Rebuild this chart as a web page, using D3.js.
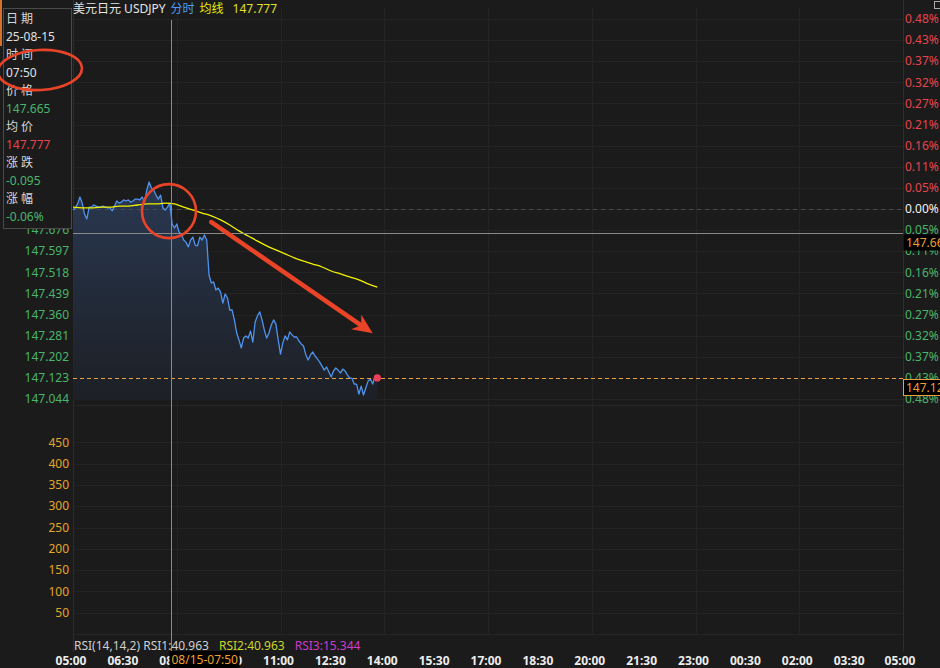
<!DOCTYPE html>
<html><head><meta charset="utf-8">
<script src="https://cdn.jsdelivr.net/npm/d3@7/dist/d3.min.js"></script>
<style>
html,body{margin:0;padding:0;background:#1b1b1b;}
svg{display:block;font-family:"Noto Sans","Noto Sans CJK SC",sans-serif;}
</style></head>
<body><svg id="c" width="940" height="668"></svg>
<script>
// ---------------- data ----------------
const symbolName = "美元日元 USDJPY";
const startTime = "05:00";      // first minute bar
const stepMinutes = 4;          // sampling of the price series
const prices = [
147.751,147.759,147.774,147.800,147.777,147.736,147.718,147.762,147.762,147.770,
147.766,147.762,147.762,147.766,147.762,147.759,147.759,147.748,147.766,147.785,
147.777,147.781,147.789,147.785,147.789,147.781,147.785,147.792,147.792,147.789,
147.800,147.781,147.826,147.856,147.834,147.826,147.807,147.792,147.807,147.759,
147.751,147.762,147.777,147.699,147.684,147.699,147.669,147.661,147.639,147.631,
147.613,147.639,147.650,147.620,147.617,147.650,147.639,147.658,147.639,147.508,
147.478,147.482,147.452,147.459,147.444,147.403,147.437,147.422,147.377,147.377,
147.340,147.291,147.265,147.235,147.272,147.280,147.272,147.298,147.257,147.332,
147.355,147.370,147.340,147.302,147.272,147.291,147.321,147.340,147.325,147.265,
147.212,147.254,147.280,147.265,147.295,147.284,147.276,147.276,147.261,147.250,
147.242,147.209,147.190,147.209,147.220,147.205,147.194,147.182,147.167,147.152,
147.164,147.145,147.126,147.149,147.160,147.152,147.141,147.156,147.149,147.134,
147.122,147.122,147.100,147.100,147.062,147.092,147.059,147.085,147.111,147.119,
147.100,147.130,147.123];
const avgStepMinutes = 16;      // sampling of the average line
const avgPrices = [
147.762,147.759,147.759,147.762,147.762,147.766,147.766,147.770,147.774,147.774,
147.777,147.774,147.762,147.751,147.740,147.729,147.714,147.695,147.673,147.654,
147.635,147.617,147.602,147.587,147.572,147.560,147.549,147.538,147.523,147.512,
147.501,147.490,147.475,147.463];
const prevClose = 147.755;
const lastPrice = 147.123;
const avgNow = "147.777";
const priceTicks = [148.466,148.387,148.308,148.229,148.150,148.071,147.992,147.913,147.834,147.755,
                    147.676,147.597,147.518,147.439,147.360,147.281,147.202,147.123,147.044];
const pctLabels = ["0.48%","0.43%","0.37%","0.32%","0.27%","0.21%","0.16%","0.11%","0.05%","0.00%",
                   "0.05%","0.11%","0.16%","0.21%","0.27%","0.32%","0.37%","0.43%","0.48%"];
const rsiTicks = [450,400,350,300,250,200,150,100,50];
const timeLabels = ["05:00","06:30","08:00","09:30","11:00","12:30","14:00","15:30","17:00",
                    "18:30","20:00","21:30","23:00","00:30","02:00","03:30","05:00"];
const gridHours = ["05:00","08:00","11:00","14:00","17:00","20:00","23:00","02:00","05:00"];
const cursorTime = "07:50";
const cursorDate = "08/15";
const cursorPrice = 147.665;
const infoLabels = ["日 期","25-08-15","时 间","07:50","价 格","147.665","均 价","147.777","涨 跌","-0.095","涨 幅","-0.06%"];
const rsiItems = [{t:"RSI(14,14,2) RSI1:40.963",c:"#cfcfcf"},{t:"RSI2:40.963",c:"#c9d62a"},{t:"RSI3:15.344",c:"#cc3ccc"}];

// ---------------- layout ----------------
const W = 940, H = 668;
const L = 73, R = 903;
const mainTop = 19, mainBot = 399;
const rsiTop = 421, rsiBot = 634;
const svg = d3.select("#c");
svg.append("rect").attr("width",W).attr("height",H).attr("fill","#1b1b1b");

const toMin = s => { const [h,m] = s.split(":").map(Number); return h*60+m; };
const startMin = toMin(startTime);
const offset = (s, i) => { let o = (toMin(s) - startMin + 1440) % 1440; if (o===0 && i>0) o = 1440; return o; };
const base = new Date(2025,7,15,5,0);
const tAt = mins => new Date(base.getTime() + mins*60000);

const x = d3.scaleTime().domain([tAt(0), tAt(1440)]).range([L, R]);
const y = d3.scaleLinear().domain([147.044, 148.466]).range([mainBot, mainTop]);
const yR = d3.scaleLinear().domain([0, 500]).range([rsiBot, rsiTop]);

const series = prices.map((p,i)=>({t:tAt(i*stepMinutes), p}));
const avgSeries = avgPrices.map((p,i)=>({t:tAt(i*avgStepMinutes), p}));

// grid
const g = svg.append("g");
g.selectAll("line.hg").data(priceTicks).join("line")
  .attr("x1",L).attr("x2",R).attr("y1",d=>Math.round(y(d))+0.5).attr("y2",d=>Math.round(y(d))+0.5)
  .attr("stroke","#232323");
g.selectAll("line.rg").data(rsiTicks).join("line")
  .attr("x1",L).attr("x2",R).attr("y1",d=>Math.round(yR(d))+0.5).attr("y2",d=>Math.round(yR(d))+0.5)
  .attr("stroke","#232323");
g.selectAll("line.vg").data(gridHours.map(offset)).join("line")
  .attr("x1",d=>Math.round(x(tAt(d)))+0.5).attr("x2",d=>Math.round(x(tAt(d)))+0.5)
  .attr("y1",mainTop-12).attr("y2",rsiBot)
  .attr("stroke","#242424");
// panel separators
[[L,L,0,652],[R,R,0,652]].forEach(a=>svg.append("line").attr("x1",a[0]+0.5).attr("x2",a[1]+0.5).attr("y1",a[2]).attr("y2",a[3]).attr("stroke","#2c2c2c"));
svg.append("line").attr("x1",L).attr("x2",R).attr("y1",mainBot+6.5).attr("y2",mainBot+6.5).attr("stroke","#262626");
svg.append("line").attr("x1",L).attr("x2",R).attr("y1",rsiBot+0.5).attr("y2",rsiBot+0.5).attr("stroke","#262626");

// area gradient
const defs = svg.append("defs");
const grad = defs.append("linearGradient").attr("id","ag").attr("x1",0).attr("y1",0).attr("x2",0).attr("y2",1);
grad.append("stop").attr("offset","0%").attr("stop-color","#2a3a55").attr("stop-opacity",0.95);
grad.append("stop").attr("offset","100%").attr("stop-color","#1d2026").attr("stop-opacity",0.9);
const area = d3.area().x(d=>x(d.t)).y0(mainBot+1).y1(d=>y(d.p));
svg.append("path").datum(series).attr("d",area).attr("fill","url(#ag)");

// prev close dashed
svg.append("line").attr("x1",L).attr("x2",R).attr("y1",Math.round(y(prevClose))+0.5).attr("y2",Math.round(y(prevClose))+0.5)
  .attr("stroke","#4a4a4a").attr("stroke-dasharray","4,4");

// price line
svg.append("path").datum(series).attr("d",d3.line().x(d=>x(d.t)).y(d=>y(d.p)))
  .attr("fill","none").attr("stroke","#4f93ee").attr("stroke-width",1.3).attr("stroke-linejoin","round");
// average line
svg.append("path").datum(avgSeries).attr("d",d3.line().curve(d3.curveMonotoneX).x(d=>x(d.t)).y(d=>y(d.p)))
  .attr("fill","none").attr("stroke","#f2f200").attr("stroke-width",1.3);

// last price dashed
const yLast = Math.round(y(lastPrice))+0.5;
svg.append("line").attr("x1",L).attr("x2",R).attr("y1",yLast).attr("y2",yLast)
  .attr("stroke","#e8a040").attr("stroke-dasharray","4,3");
const lastPt = series[series.length-1];
svg.append("circle").attr("cx",x(lastPt.t)).attr("cy",y(lastPt.p)).attr("r",3.6).attr("fill","#ee4058");

// crosshair
const cx = Math.round(x(tAt(offset(cursorTime,1))))+0.5;
const cy = Math.round(y(cursorPrice))+0.5;
svg.append("line").attr("x1",cx).attr("x2",cx).attr("y1",mainTop+1).attr("y2",652).attr("stroke","#8a8a8a");
svg.append("line").attr("x1",L).attr("x2",R).attr("y1",cy).attr("y2",cy).attr("stroke","#8a8a8a");

// left axis labels
svg.append("g").selectAll("text").data(priceTicks).join("text")
  .attr("x",69).attr("y",d=>y(d)).attr("dy","0.35em").attr("text-anchor","end")
  .attr("font-size",12).attr("fill","#49b56c").text(d=>d.toFixed(3));
// right axis labels
svg.append("g").selectAll("text").data(pctLabels).join("text")
  .attr("x",905).attr("y",(d,i)=>y(priceTicks[i])).attr("dy","0.35em")
  .attr("font-size",12)
  .attr("fill",(d,i)=> y(priceTicks[i]) < y(prevClose)-1 ? "#e5454f" : (Math.abs(priceTicks[i]-prevClose)<1e-6 ? "#f2f2f2" : "#49b56c"))
  .text(d=>d);
// rsi axis labels
svg.append("g").selectAll("text").data(rsiTicks).join("text")
  .attr("x",69).attr("y",d=>yR(d)).attr("dy","0.35em").attr("text-anchor","end")
  .attr("font-size",12).attr("fill","#e3a62a").text(d=>d);
// time labels
svg.append("g").selectAll("text").data(timeLabels).join("text")
  .attr("x",(d,i)=>Math.min(x(tAt(offset(d,i))) - 2, 900)).attr("y",665).attr("text-anchor","middle")
  .attr("font-size",12).attr("font-weight","bold").attr("fill","#ededed").text(d=>d);

// right price tags (hang just below their line)
function tag(yy, txt, border){
  const gg = svg.append("g");
  gg.append("rect").attr("x",903.5).attr("y",yy+1).attr("width",40).attr("height",16)
    .attr("fill","#000").attr("stroke",border||"none");
  gg.append("text").attr("x",906).attr("y",yy+9).attr("dy","0.36em").attr("font-size",12).attr("fill","#f0a030").text(txt);
}
tag(cy, cursorPrice.toFixed(2));
tag(yLast, lastPrice.toFixed(2), "#e8a040");
// bottom time tag
svg.append("rect").attr("x",cx-2).attr("y",651).attr("width",70).attr("height",17).attr("fill","#000");
svg.append("text").attr("x",cx).attr("y",664).attr("font-size",12).attr("fill","#f0a030").text(cursorDate+"-"+cursorTime);

// RSI legend
const rsiText = svg.append("text").attr("x",74).attr("y",650).attr("font-size",12);
rsiItems.forEach((it,i)=>{ rsiText.append("tspan").attr("fill",it.c).attr("dx", i? 10:0).text(it.t); });

// header
const hdr = svg.append("text").attr("x",73).attr("y",13).attr("font-size",12);
hdr.append("tspan").attr("fill","#e6e6e6").text(symbolName);
hdr.append("tspan").attr("fill","#4a9cf5").attr("dx",5).text("分时");
hdr.append("tspan").attr("fill","#eaea10").attr("dx",5).text("均线");
hdr.append("tspan").attr("fill","#e0e020").attr("dx",9).text(avgNow);

// info box
svg.append("rect").attr("x",0).attr("y",0).attr("width",2).attr("height",46).attr("fill","#d8702a");
svg.append("rect").attr("x",3.5).attr("y",8.5).attr("width",68).attr("height",220).attr("fill","#1b1b1b").attr("stroke","#4a4a4a");
const infoColors = ["#d8d8d8","#e0e0e0","#d8d8d8","#e0e0e0","#d8d8d8","#49b56c","#d8d8d8","#e5454f","#d8d8d8","#49b56c","#d8d8d8","#49b56c"];
svg.append("g").selectAll("text").data(infoLabels).join("text")
  .attr("x",6).attr("y",(d,i)=>23+i*18).attr("font-size",12).attr("fill",(d,i)=>infoColors[i]).text(d=>d);

// top-right icon
svg.append("rect").attr("x",934.5).attr("y",1.5).attr("width",6).attr("height",7).attr("fill","none").attr("stroke","#aaa");

// red annotations
const red = "#ea4428";
svg.append("ellipse").attr("cx",40).attr("cy",70).attr("rx",42).attr("ry",20)
  .attr("fill","none").attr("stroke",red).attr("stroke-width",2.6).attr("transform","rotate(-3,40,70)");
svg.append("circle").attr("cx",x(tAt(offset(cursorTime,1)))-2).attr("cy",y(147.747)).attr("r",27)
  .attr("fill","none").attr("stroke",red).attr("stroke-width",2.6);
const a0 = [x(tAt(offset("09:00",1))), y(147.706)], a1 = [x(tAt(offset("13:40",1))), y(147.29)];
const ang = Math.atan2(a1[1]-a0[1], a1[0]-a0[0]);
const shaftEnd = [a1[0]-14*Math.cos(ang), a1[1]-14*Math.sin(ang)];
svg.append("line").attr("x1",a0[0]).attr("y1",a0[1]).attr("x2",shaftEnd[0]).attr("y2",shaftEnd[1])
  .attr("stroke",red).attr("stroke-width",4.5).attr("stroke-linecap","round");
const hl = 22, hw = 0.42;
const p1 = [a1[0]-hl*Math.cos(ang-hw), a1[1]-hl*Math.sin(ang-hw)];
const p2 = [a1[0]-hl*Math.cos(ang+hw), a1[1]-hl*Math.sin(ang+hw)];
const p3 = [a1[0]-14*Math.cos(ang), a1[1]-14*Math.sin(ang)];
svg.append("path").attr("d",`M${a1[0]},${a1[1]}L${p1[0]},${p1[1]}L${p3[0]},${p3[1]}L${p2[0]},${p2[1]}Z`).attr("fill",red);
</script></body></html>
